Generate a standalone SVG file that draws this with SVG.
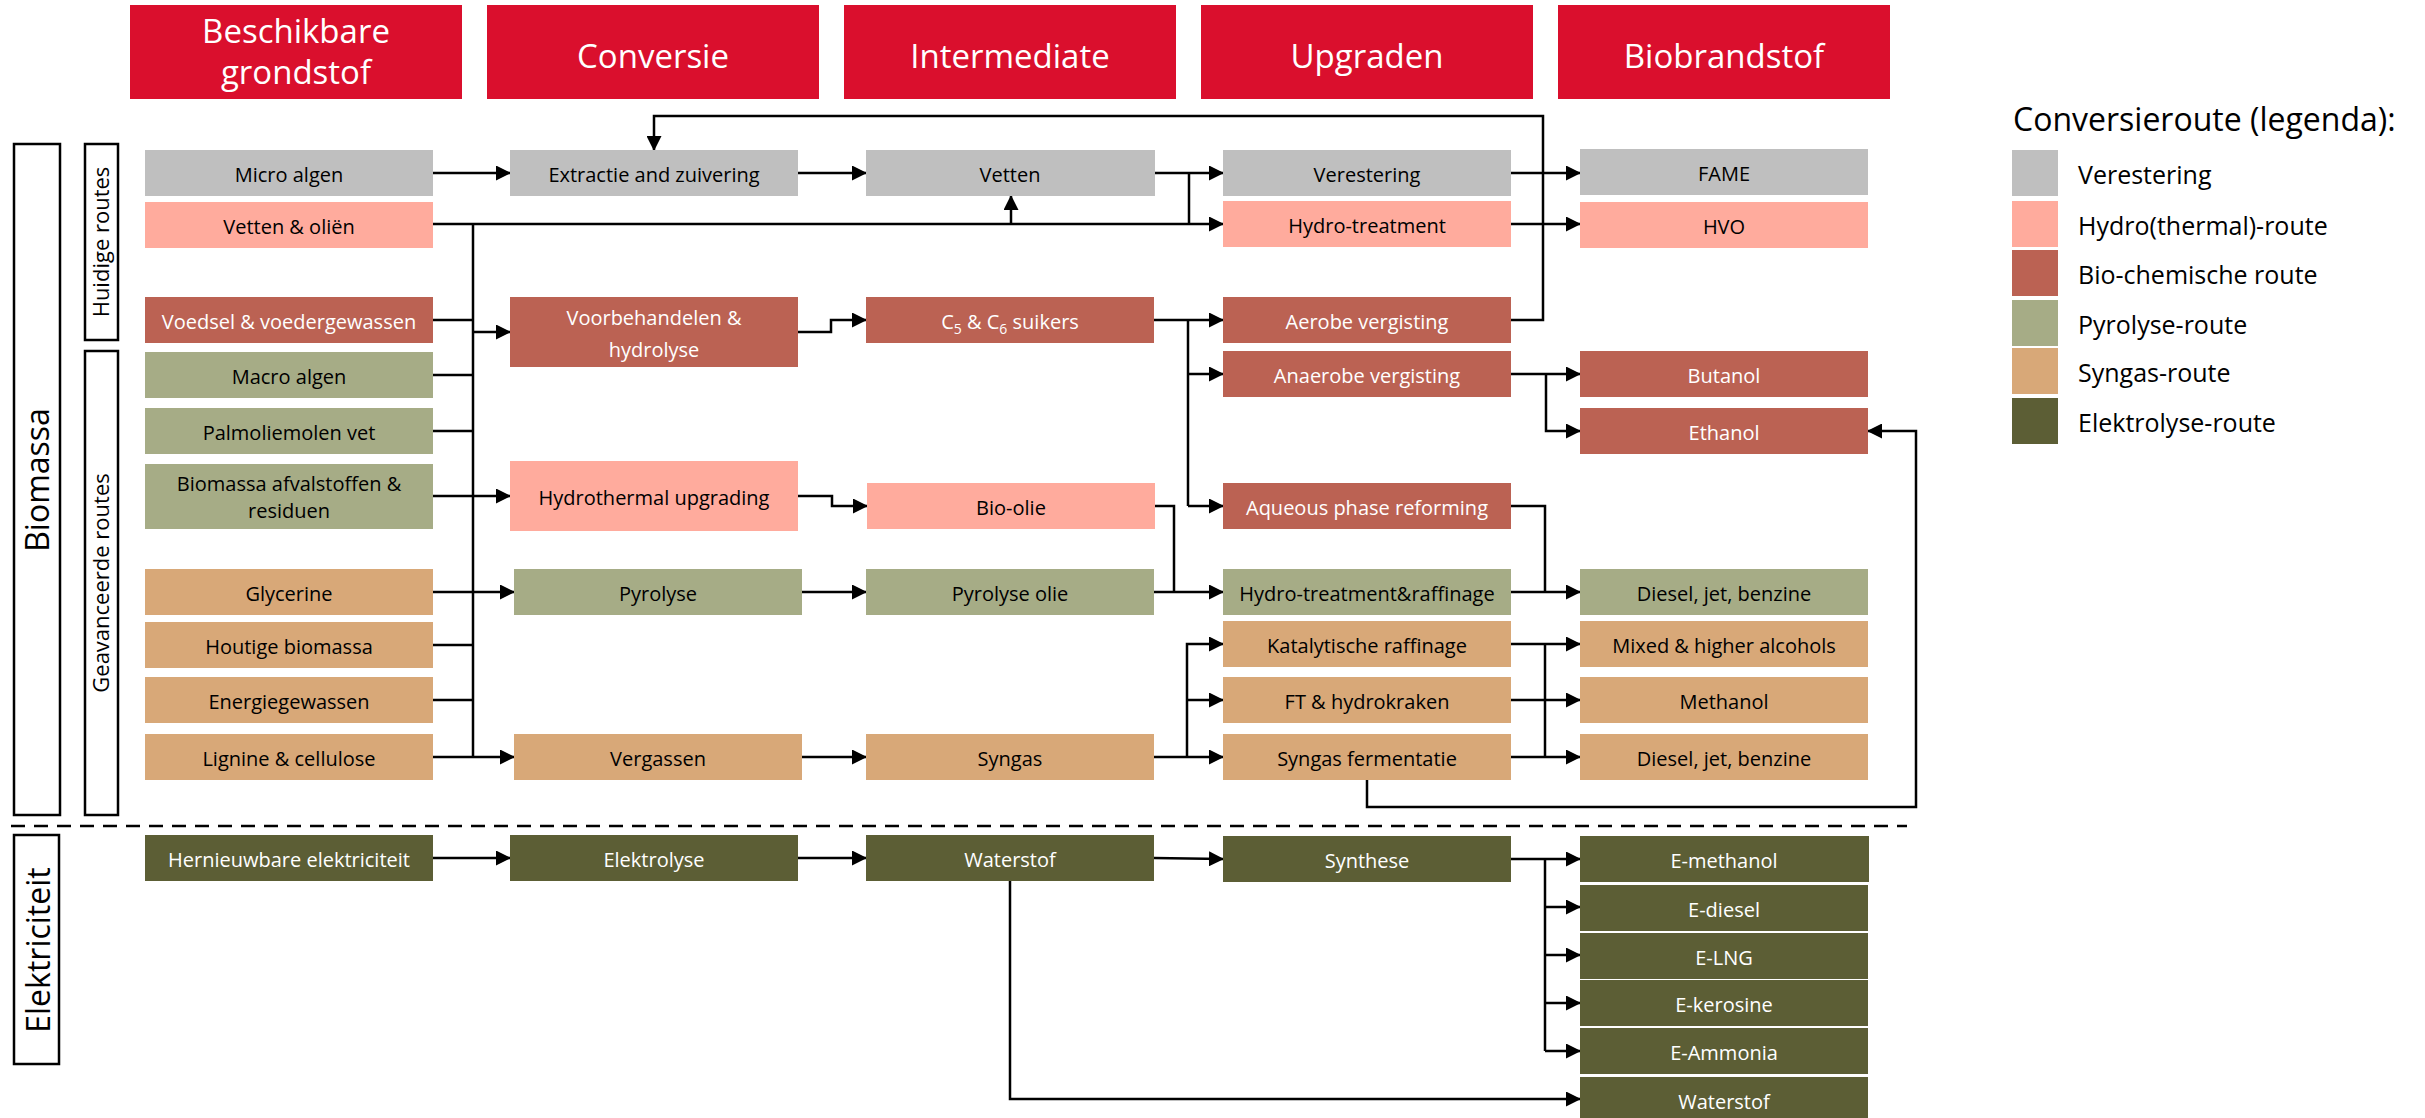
<svg xmlns="http://www.w3.org/2000/svg" width="2425" height="1118" viewBox="0 0 2425 1118">
<defs>
<marker id="arr" viewBox="0 0 15 15" refX="14" refY="7.5" markerWidth="15" markerHeight="15" markerUnits="userSpaceOnUse" orient="auto">
<path d="M0,0 L15,7.5 L0,15 z" fill="#000"/>
</marker>
<style>
text{font-family:"Open Sans","Noto Sans","Liberation Sans",sans-serif;}
.hd{fill:#DA0F2D;}
.ht{fill:#fff;font-size:33px;text-anchor:middle;}
.t{font-size:20px;text-anchor:middle;fill:#000;}
.w{fill:#fff;}
.gy{fill:#BFBFBF;}
.sa{fill:#FFAB9D;}
.br{fill:#BB6253;}
.ol{fill:#A6AC86;}
.tn{fill:#D8A878;}
.dk{fill:#5C5E35;}
.lb{fill:none;stroke:#000;stroke-width:2.5;}
.lt{font-size:32px;text-anchor:middle;fill:#000;}
.st{font-size:22px;text-anchor:middle;fill:#000;}
.c path{fill:none;stroke:#000;stroke-width:2.5;}
.c .a{marker-end:url(#arr);}
.lg{font-size:25px;fill:#000;}
</style>
</defs>
<rect width="2425" height="1118" fill="#fff"/>

<g id="headers">
<g id="h1"><rect class="hd" x="130" y="5" width="332" height="94"/><text class="ht" x="296" y="43">Beschikbare</text><text class="ht" x="296" y="84">grondstof</text></g>
<g id="h2"><rect class="hd" x="487" y="5" width="332" height="94"/><text class="ht" x="653" y="68">Conversie</text></g>
<g id="h3"><rect class="hd" x="844" y="5" width="332" height="94"/><text class="ht" x="1010" y="68">Intermediate</text></g>
<g id="h4"><rect class="hd" x="1201" y="5" width="332" height="94"/><text class="ht" x="1367" y="68">Upgraden</text></g>
<g id="h5"><rect class="hd" x="1558" y="5" width="332" height="94"/><text class="ht" x="1724" y="68">Biobrandstof</text></g>
</g>

<g id="side-labels">
<g id="biomassa"><rect class="lb" x="14" y="144" width="46" height="671"/><text class="lt" transform="translate(49,480) rotate(-90)">Biomassa</text></g>
<g id="huidige"><rect class="lb" x="85" y="144" width="33" height="196"/><text class="st" transform="translate(109,242) rotate(-90)">Huidige routes</text></g>
<g id="geavanceerde"><rect class="lb" x="85" y="351" width="33" height="464"/><text class="st" transform="translate(109,583) rotate(-90)">Geavanceerde routes</text></g>
<g id="elektriciteit"><rect class="lb" x="14" y="835" width="45" height="229"/><text class="lt" transform="translate(50,950) rotate(-90)">Elektriciteit</text></g>
<line x1="11" y1="826" x2="1907" y2="826" stroke="#000" stroke-width="2.7" stroke-dasharray="14 9"/>
</g>

<g id="connectors" class="c">
<path class="a" d="M433,173 H510"/>
<path class="a" d="M798,173 H866"/>
<path class="a" d="M1155,173 H1223"/>
<path d="M1189,173 V224"/>
<path class="a" d="M433,224 H1223"/>
<path class="a" d="M1011,224 V196"/>
<path d="M473,224 V757"/>
<path d="M433,320 H473"/>
<path d="M433,375 H473"/>
<path d="M433,431 H473"/>
<path d="M433,645 H473"/>
<path d="M433,700 H473"/>
<path class="a" d="M473,332 H510"/>
<path class="a" d="M433,496 H510"/>
<path class="a" d="M433,592 H514"/>
<path class="a" d="M433,757 H514"/>
<path class="a" d="M798,332 H831 V320 H866"/>
<path class="a" d="M1154,320 H1223"/>
<path d="M1188,320 V506"/>
<path class="a" d="M1188,374 H1223"/>
<path class="a" d="M1188,506 H1223"/>
<path class="a" d="M1511,320 H1543 V116 H654 V150"/>
<path class="a" d="M1511,173 H1580"/>
<path class="a" d="M1511,224 H1580"/>
<path class="a" d="M1511,374 H1580"/>
<path class="a" d="M1546,374 V431 H1580"/>
<path class="a" d="M798,496 H832 V506 H867"/>
<path d="M1155,506 H1174 V592"/>
<path class="a" d="M802,592 H866"/>
<path class="a" d="M1154,592 H1223"/>
<path d="M1511,506 H1545 V592"/>
<path class="a" d="M1511,592 H1580"/>
<path class="a" d="M802,757 H866"/>
<path class="a" d="M1154,757 H1223"/>
<path class="a" d="M1187,757 V644 H1223"/>
<path class="a" d="M1187,700 H1223"/>
<path class="a" d="M1511,644 H1580"/>
<path class="a" d="M1511,700 H1580"/>
<path class="a" d="M1511,757 H1580"/>
<path d="M1545,644 V757"/>
<path class="a" d="M1367,780 V807 H1916 V431 H1868"/>
<path class="a" d="M433,858 H510"/>
<path class="a" d="M798,858 H866"/>
<path class="a" d="M1154,858 L1223,859"/>
<path class="a" d="M1511,859 H1580"/>
<path d="M1545,859 V1051"/>
<path class="a" d="M1545,907 H1580"/>
<path class="a" d="M1545,955 H1580"/>
<path class="a" d="M1545,1003 H1580"/>
<path class="a" d="M1545,1051 H1580"/>
<path class="a" d="M1010,881 V1099 H1580"/>
</g>

<g id="sources">
<g id="n-microalgen"><rect class="gy" x="145" y="150" width="288" height="46"/><text class="t" x="289" y="182">Micro algen</text></g>
<g id="n-vettenolien"><rect class="sa" x="145" y="202" width="288" height="46"/><text class="t" x="289" y="234">Vetten &amp; oliën</text></g>
<g id="n-voedsel"><rect class="br" x="145" y="297" width="288" height="46"/><text class="t w" x="289" y="329">Voedsel &amp; voedergewassen</text></g>
<g id="n-macroalgen"><rect class="ol" x="145" y="352" width="288" height="46"/><text class="t" x="289" y="384">Macro algen</text></g>
<g id="n-palm"><rect class="ol" x="145" y="408" width="288" height="46"/><text class="t" x="289" y="440">Palmoliemolen vet</text></g>
<g id="n-afval"><rect class="ol" x="145" y="464" width="288" height="65"/><text class="t" x="289" y="491">Biomassa afvalstoffen &amp;</text><text class="t" x="289" y="518">residuen</text></g>
<g id="n-glycerine"><rect class="tn" x="145" y="569" width="288" height="46"/><text class="t" x="289" y="601">Glycerine</text></g>
<g id="n-houtige"><rect class="tn" x="145" y="622" width="288" height="46"/><text class="t" x="289" y="654">Houtige biomassa</text></g>
<g id="n-energie"><rect class="tn" x="145" y="677" width="288" height="46"/><text class="t" x="289" y="709">Energiegewassen</text></g>
<g id="n-lignine"><rect class="tn" x="145" y="734" width="288" height="46"/><text class="t" x="289" y="766">Lignine &amp; cellulose</text></g>
<g id="n-hernieuwbaar"><rect class="dk" x="145" y="835" width="288" height="46"/><text class="t w" x="289" y="867">Hernieuwbare elektriciteit</text></g>
</g>

<g id="conversion">
<g id="n-extractie"><rect class="gy" x="510" y="150" width="288" height="46"/><text class="t" x="654" y="182">Extractie and zuivering</text></g>
<g id="n-voorbehandelen"><rect class="br" x="510" y="297" width="288" height="70"/><text class="t w" x="654" y="325">Voorbehandelen &amp;</text><text class="t w" x="654" y="357">hydrolyse</text></g>
<g id="n-hydrothermal"><rect class="sa" x="510" y="461" width="288" height="70"/><text class="t" x="654" y="505">Hydrothermal upgrading</text></g>
<g id="n-pyrolyse"><rect class="ol" x="514" y="569" width="288" height="46"/><text class="t" x="658" y="601">Pyrolyse</text></g>
<g id="n-vergassen"><rect class="tn" x="514" y="734" width="288" height="46"/><text class="t" x="658" y="766">Vergassen</text></g>
<g id="n-elektrolyse"><rect class="dk" x="510" y="835" width="288" height="46"/><text class="t w" x="654" y="867">Elektrolyse</text></g>
</g>

<g id="intermediate">
<g id="n-vetten"><rect class="gy" x="866" y="150" width="289" height="46"/><text class="t" x="1010" y="182">Vetten</text></g>
<g id="n-suikers"><rect class="br" x="866" y="297" width="288" height="46"/><text class="t w" x="1010" y="329">C<tspan font-size="14" dy="5">5</tspan><tspan dy="-5"> &amp; C</tspan><tspan font-size="14" dy="5">6</tspan><tspan dy="-5"> suikers</tspan></text></g>
<g id="n-bioolie"><rect class="sa" x="867" y="483" width="288" height="46"/><text class="t" x="1011" y="515">Bio-olie</text></g>
<g id="n-pyrolyseolie"><rect class="ol" x="866" y="569" width="288" height="46"/><text class="t" x="1010" y="601">Pyrolyse olie</text></g>
<g id="n-syngas"><rect class="tn" x="866" y="734" width="288" height="46"/><text class="t" x="1010" y="766">Syngas</text></g>
<g id="n-waterstof1"><rect class="dk" x="866" y="835" width="288" height="46"/><text class="t w" x="1010" y="867">Waterstof</text></g>
</g>

<g id="upgrading">
<g id="n-verestering"><rect class="gy" x="1223" y="150" width="288" height="46"/><text class="t" x="1367" y="182">Verestering</text></g>
<g id="n-hydrotreatment"><rect class="sa" x="1223" y="201" width="288" height="46"/><text class="t" x="1367" y="233">Hydro-treatment</text></g>
<g id="n-aerobe"><rect class="br" x="1223" y="297" width="288" height="46"/><text class="t w" x="1367" y="329">Aerobe vergisting</text></g>
<g id="n-anaerobe"><rect class="br" x="1223" y="351" width="288" height="46"/><text class="t w" x="1367" y="383">Anaerobe vergisting</text></g>
<g id="n-aqueous"><rect class="br" x="1223" y="483" width="288" height="46"/><text class="t w" x="1367" y="515">Aqueous phase reforming</text></g>
<g id="n-htr"><rect class="ol" x="1223" y="569" width="288" height="46"/><text class="t" x="1367" y="601">Hydro-treatment&amp;raffinage</text></g>
<g id="n-katalytisch"><rect class="tn" x="1223" y="621" width="288" height="46"/><text class="t" x="1367" y="653">Katalytische raffinage</text></g>
<g id="n-ft"><rect class="tn" x="1223" y="677" width="288" height="46"/><text class="t" x="1367" y="709">FT &amp; hydrokraken</text></g>
<g id="n-syngasferm"><rect class="tn" x="1223" y="734" width="288" height="46"/><text class="t" x="1367" y="766">Syngas fermentatie</text></g>
<g id="n-synthese"><rect class="dk" x="1223" y="836" width="288" height="46"/><text class="t w" x="1367" y="868">Synthese</text></g>
</g>

<g id="products">
<g id="n-fame"><rect class="gy" x="1580" y="149" width="288" height="46"/><text class="t" x="1724" y="181">FAME</text></g>
<g id="n-hvo"><rect class="sa" x="1580" y="202" width="288" height="46"/><text class="t" x="1724" y="234">HVO</text></g>
<g id="n-butanol"><rect class="br" x="1580" y="351" width="288" height="46"/><text class="t w" x="1724" y="383">Butanol</text></g>
<g id="n-ethanol"><rect class="br" x="1580" y="408" width="288" height="46"/><text class="t w" x="1724" y="440">Ethanol</text></g>
<g id="n-diesel1"><rect class="ol" x="1580" y="569" width="288" height="46"/><text class="t" x="1724" y="601">Diesel, jet, benzine</text></g>
<g id="n-mixed"><rect class="tn" x="1580" y="621" width="288" height="46"/><text class="t" x="1724" y="653">Mixed &amp; higher alcohols</text></g>
<g id="n-methanol"><rect class="tn" x="1580" y="677" width="288" height="46"/><text class="t" x="1724" y="709">Methanol</text></g>
<g id="n-diesel2"><rect class="tn" x="1580" y="734" width="288" height="46"/><text class="t" x="1724" y="766">Diesel, jet, benzine</text></g>
<g id="n-emethanol"><rect class="dk" x="1580" y="836" width="289" height="46"/><text class="t w" x="1724" y="868">E-methanol</text></g>
<g id="n-ediesel"><rect class="dk" x="1580" y="885" width="288" height="46"/><text class="t w" x="1724" y="917">E-diesel</text></g>
<g id="n-elng"><rect class="dk" x="1580" y="933" width="288" height="46"/><text class="t w" x="1724" y="965">E-LNG</text></g>
<g id="n-ekerosine"><rect class="dk" x="1580" y="980" width="288" height="46"/><text class="t w" x="1724" y="1012">E-kerosine</text></g>
<g id="n-eammonia"><rect class="dk" x="1580" y="1028" width="288" height="46"/><text class="t w" x="1724" y="1060">E-Ammonia</text></g>
<g id="n-waterstof2"><rect class="dk" x="1580" y="1077" width="288" height="46"/><text class="t w" x="1724" y="1109">Waterstof</text></g>
</g>

<g id="legend">
<text x="2013" y="131" font-size="32" fill="#000">Conversieroute (legenda):</text>
<rect class="gy" x="2012" y="150" width="46" height="46"/><text class="lg" x="2078" y="184">Verestering</text>
<rect class="sa" x="2012" y="201" width="46" height="46"/><text class="lg" x="2078" y="235">Hydro(thermal)-route</text>
<rect class="br" x="2012" y="250" width="46" height="46"/><text class="lg" x="2078" y="284">Bio-chemische route</text>
<rect class="ol" x="2012" y="300" width="46" height="46"/><text class="lg" x="2078" y="334">Pyrolyse-route</text>
<rect class="tn" x="2012" y="348" width="46" height="46"/><text class="lg" x="2078" y="382">Syngas-route</text>
<rect class="dk" x="2012" y="398" width="46" height="46"/><text class="lg" x="2078" y="432">Elektrolyse-route</text>
</g>
</svg>
